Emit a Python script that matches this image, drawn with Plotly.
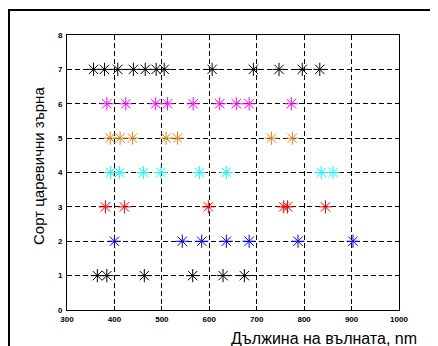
import plotly.graph_objects as go

W, H = 438, 346
OFF = 8  # browser body margin: page coordinate = figure coordinate + 8
ML, MR, MT, MB = 59, 47, 27, 44

x_ticks = [300, 400, 500, 600, 700, 800, 900, 1000]
y_ticks = [0, 1, 2, 3, 4, 5, 6, 7, 8]

row1 = [364, 384, 463, 565, 629, 674]
row2 = [400, 543, 584, 636, 684, 787, 903]
row3 = [381, 421, 598, 757, 765, 845]
row4 = [392, 411, 461, 498, 579, 636, 836, 861]
row5 = [391, 412, 438, 509, 533, 731, 775]
row6 = [384, 424, 487, 512, 566, 622, 657, 684, 773]
row7 = [356, 379, 407, 440, 465, 488, 505, 606, 693, 747, 796, 833]

rows = [
    (1, row1, "#000000"),
    (2, row2, "#0000FF"),
    (3, row3, "#FF0000"),
    (4, row4, "#00FFFF"),
    (5, row5, "#E3841A"),
    (6, row6, "#FF00FF"),
    (7, row7, "#000000"),
]

fig = go.Figure()
for yv, xs, col in rows:
    fig.add_trace(go.Scatter(
        x=xs, y=[yv] * len(xs), mode="markers",
        marker=dict(symbol="asterisk-open", size=11, color=col,
                    line=dict(color=col, width=1)),
        showlegend=False,
    ))

pw = W - ML - MR
ph = H - MT - MB

def px(xp):
    return (xp - OFF - ML) / pw

def py(yp):
    return 1 - (yp - OFF - MT) / ph

axis_common = dict(
    showline=True, linecolor="black", linewidth=1, mirror=True,
    ticks="inside", ticklen=4, tickcolor="black",
    showgrid=True, gridcolor="black", gridwidth=1, griddash="5px,3px",
    zeroline=False,
    tickfont=dict(family="Arial, Liberation Sans", size=8, color="black", weight="bold"),
)

fig.update_layout(
    width=W, height=H,
    margin=dict(l=ML, r=MR, t=MT, b=MB),
    paper_bgcolor="white", plot_bgcolor="white",
    xaxis=dict(range=[300, 1000], tickvals=x_ticks, ticklabelstandoff=1, **axis_common),
    yaxis=dict(range=[0, 8], tickvals=y_ticks, ticklabelstandoff=2, **axis_common),
    annotations=[
        dict(text="Дължина на вълната, nm", xref="paper", yref="paper",
             x=px(324), y=py(338), xanchor="center", yanchor="middle",
             showarrow=False,
             font=dict(family="Arial, Liberation Sans", size=16, color="black")),
        dict(text="Сорт царевични зърна", xref="paper", yref="paper",
             x=px(38), y=py(166), xanchor="center", yanchor="middle",
             showarrow=False, textangle=-90,
             font=dict(family="Arial, Liberation Sans", size=15, color="black")),
    ],
    shapes=[
        dict(type="line", xref="paper", yref="paper",
             x0=px(8), x1=px(450), y0=py(10), y1=py(10),
             line=dict(color="black", width=2)),
        dict(type="line", xref="paper", yref="paper",
             x0=px(9), x1=px(9), y0=py(10), y1=py(360),
             line=dict(color="black", width=2)),
    ],
)

fig.write_html("out.html")
